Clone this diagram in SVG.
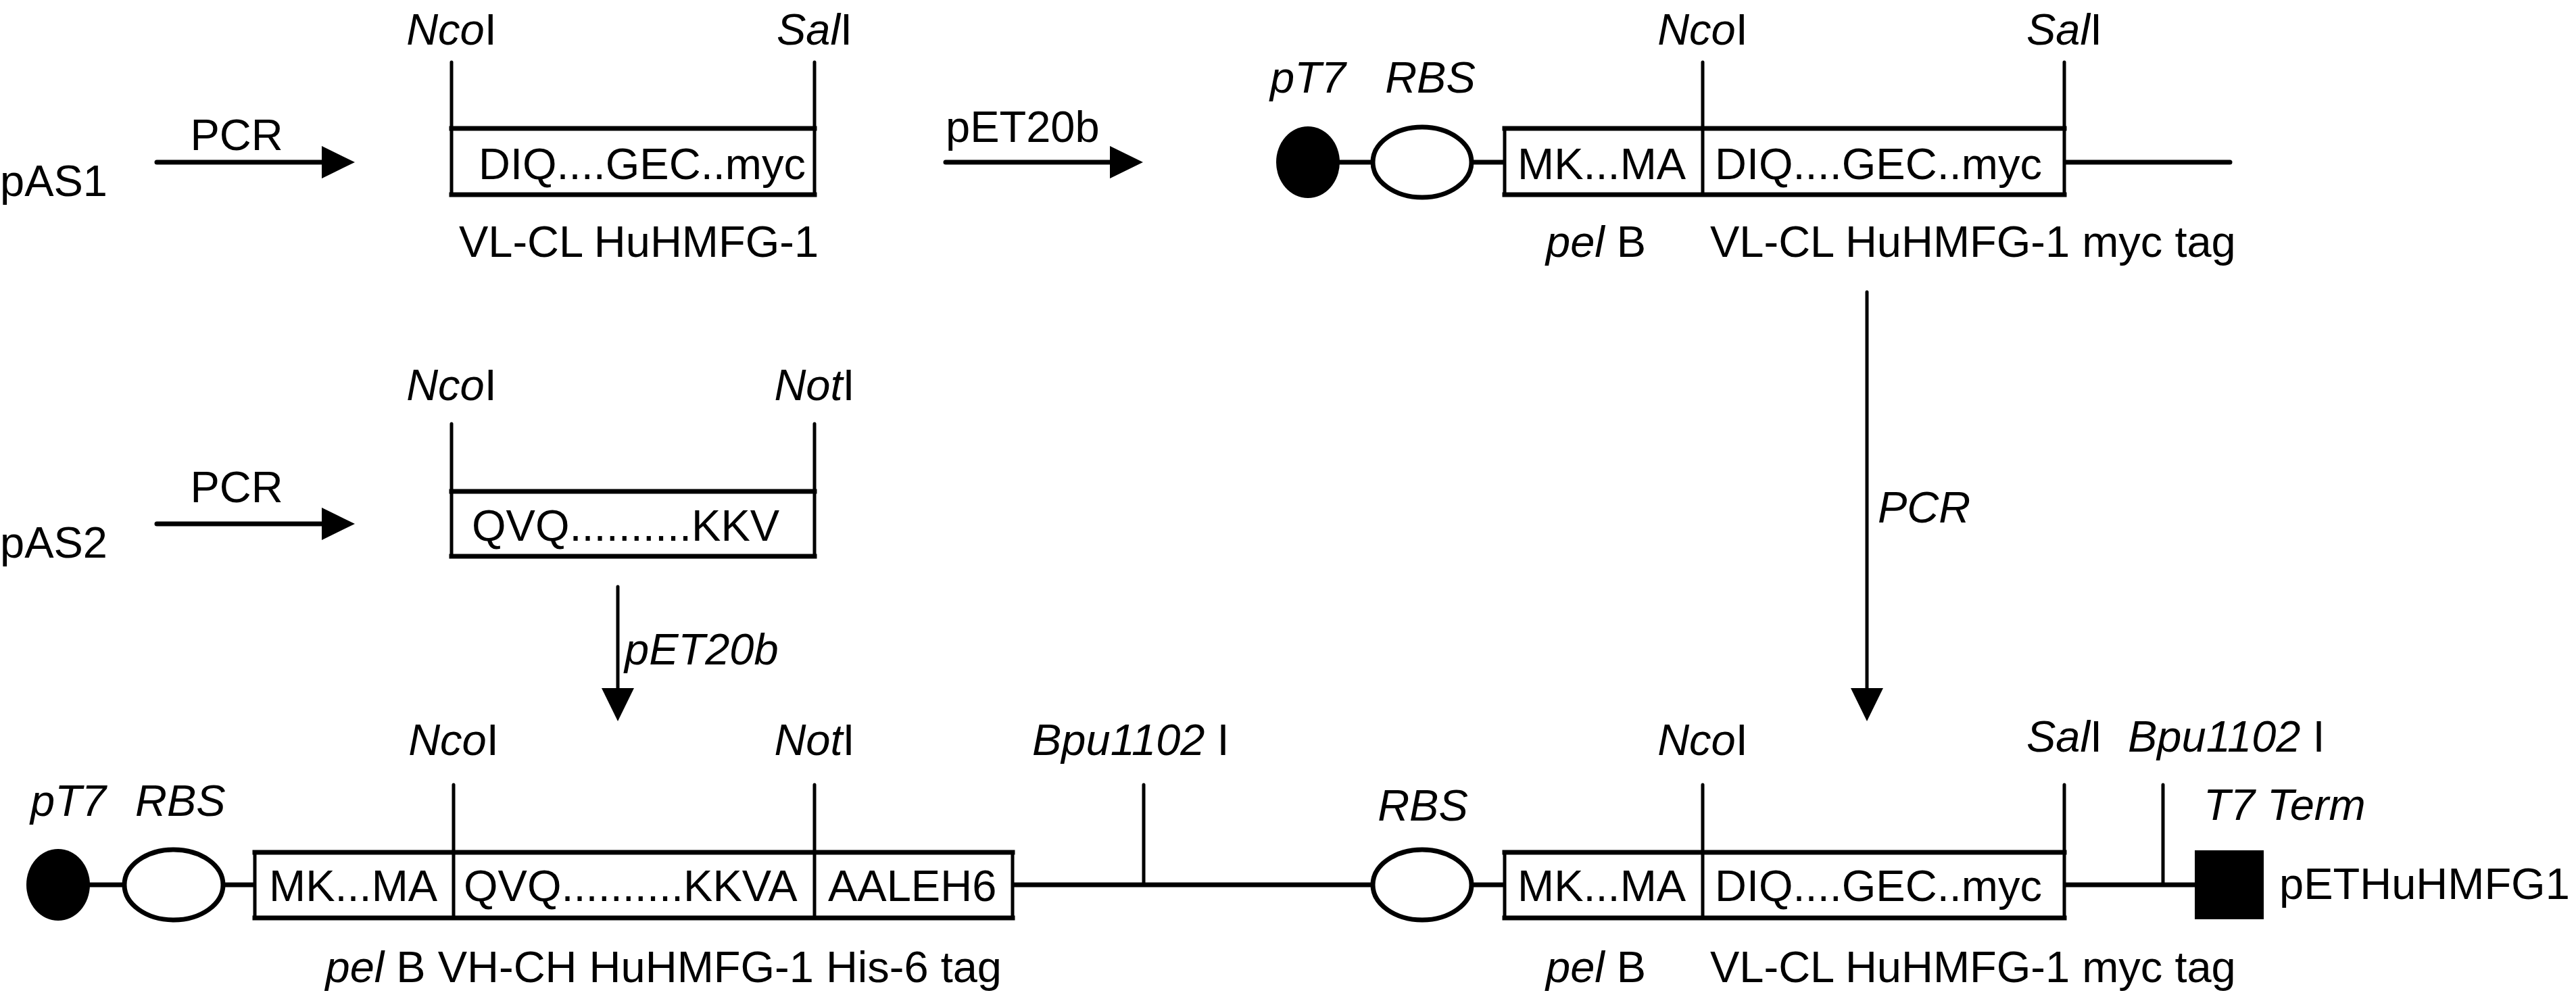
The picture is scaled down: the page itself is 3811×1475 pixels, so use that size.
<svg xmlns="http://www.w3.org/2000/svg" width="3811" height="1475" viewBox="0 0 3811 1475">
<style>
text{font-family:"Liberation Sans",Arial,Helvetica,sans-serif;font-size:65px;fill:#000}
.i{font-style:italic}
.m{text-anchor:middle}
.e{text-anchor:end}
.ln{stroke:#000;stroke-width:7;fill:none}
.site{stroke:#000;stroke-width:5;fill:none;stroke-linecap:round}
.box{stroke:#000;stroke-width:5;fill:#fff}
.hb{stroke:#000;stroke-width:7;fill:none;stroke-linecap:square}
.open{stroke:#000;stroke-width:7;fill:#fff}
.fill{fill:#000}
</style>
<defs>
<marker id="ah" markerUnits="userSpaceOnUse" viewBox="0 -25 50 50" markerWidth="50" markerHeight="50" refX="0" refY="0" orient="auto">
<path d="M0,-24 L49,0 L0,24 Z" fill="#000"/>
</marker>
</defs>
<rect width="3811" height="1475" fill="#fff"/>

<g id="connectors">
<line class="ln" x1="232" y1="240" x2="476" y2="240" stroke-linecap="round" marker-end="url(#ah)"/>
<line class="ln" x1="1399" y1="240" x2="1642" y2="240" stroke-linecap="round" marker-end="url(#ah)"/>
<line class="ln" x1="232" y1="775" x2="476" y2="775" stroke-linecap="round" marker-end="url(#ah)"/>
<line class="site" x1="914" y1="868" x2="914" y2="1018" marker-end="url(#ah)"/>
<line class="site" x1="2762" y1="432" x2="2762" y2="1018" marker-end="url(#ah)"/>
</g>

<g id="labels-steps">
<text x="0" y="290">pAS1</text>
<text x="350" y="222" class="m">PCR</text>
<text x="1399" y="210">pET20b</text>
<text x="0" y="825">pAS2</text>
<text x="350" y="743" class="m">PCR</text>
<text x="924" y="983" class="i">pET20b</text>
<text x="2778" y="773" class="i">PCR</text>
</g>

<g id="frag-vl">
<line class="site" x1="668" y1="92" x2="668" y2="190"/>
<line class="site" x1="1205" y1="92" x2="1205" y2="190"/>
<rect class="box" x="668" y="190" width="537" height="98"/>
<path class="hb" d="M668,190 H1205 M668,288 H1205"/>
<text x="708" y="265">DIQ....GEC..myc</text>
<text x="668" y="66" class="m"><tspan class="i">Nco</tspan>I</text>
<text x="1205" y="66" class="m"><tspan class="i">Sal</tspan>I</text>
<text x="945" y="380" class="m">VL-CL HuHMFG-1</text>
</g>

<g id="construct-vl">
<line class="ln" x1="1980" y1="240" x2="2226" y2="240"/>
<line class="ln" x1="3054" y1="240" x2="3299" y2="240" stroke-linecap="round"/>
<ellipse class="fill" cx="1935" cy="240" rx="47" ry="53"/>
<ellipse class="open" cx="2104" cy="240" rx="73" ry="52"/>
<rect class="box" x="2226" y="190" width="828" height="98"/>
<path class="hb" d="M2226,190 H3054 M2226,288 H3054"/>
<line class="site" x1="2519" y1="92" x2="2519" y2="288"/>
<line class="site" x1="3054" y1="92" x2="3054" y2="190"/>
<text x="2245" y="265">MK...MA</text>
<text x="2537" y="265">DIQ....GEC..myc</text>
<text x="1935" y="137" class="i m">pT7</text>
<text x="2116" y="137" class="i m">RBS</text>
<text x="2519" y="66" class="m"><tspan class="i">Nco</tspan>I</text>
<text x="3054" y="66" class="m"><tspan class="i">Sal</tspan>I</text>
<text x="2287" y="380"><tspan class="i">pel</tspan> B</text>
<text x="2530" y="380">VL-CL HuHMFG-1 myc tag</text>
</g>

<g id="frag-vh">
<line class="site" x1="668" y1="627" x2="668" y2="727"/>
<line class="site" x1="1205" y1="627" x2="1205" y2="727"/>
<rect class="box" x="668" y="727" width="537" height="96"/>
<path class="hb" d="M668,727 H1205 M668,823 H1205"/>
<text x="698" y="800">QVQ..........KKV</text>
<text x="668" y="592" class="m"><tspan class="i">Nco</tspan>I</text>
<text x="1205" y="592" class="m"><tspan class="i">Not</tspan>I</text>
</g>

<g id="construct-final">
<line class="ln" x1="130" y1="1309" x2="377" y2="1309"/>
<line class="ln" x1="1498" y1="1309" x2="2226" y2="1309"/>
<line class="ln" x1="3054" y1="1309" x2="3247" y2="1309"/>
<ellipse class="fill" cx="86" cy="1309" rx="47" ry="53"/>
<ellipse class="open" cx="257" cy="1309" rx="73" ry="52"/>
<rect class="box" x="377" y="1261" width="1121" height="97"/>
<path class="hb" d="M377,1261 H1498 M377,1358 H1498"/>
<line class="site" x1="671" y1="1161" x2="671" y2="1358"/>
<line class="site" x1="1205" y1="1161" x2="1205" y2="1358"/>
<line class="site" x1="1692" y1="1161" x2="1692" y2="1309"/>
<ellipse class="open" cx="2104" cy="1309" rx="73" ry="52"/>
<rect class="box" x="2226" y="1261" width="828" height="97"/>
<path class="hb" d="M2226,1261 H3054 M2226,1358 H3054"/>
<line class="site" x1="2519" y1="1161" x2="2519" y2="1358"/>
<line class="site" x1="3054" y1="1161" x2="3054" y2="1261"/>
<line class="site" x1="3200" y1="1161" x2="3200" y2="1309"/>
<rect class="fill" x="3247" y="1258" width="102" height="102"/>
<text x="398" y="1333">MK...MA</text>
<text x="686" y="1333">QVQ..........KKVA</text>
<text x="1225" y="1333">AALEH6</text>
<text x="2245" y="1333">MK...MA</text>
<text x="2537" y="1333">DIQ....GEC..myc</text>
<text x="45" y="1207" class="i">pT7</text>
<text x="200" y="1207" class="i">RBS</text>
<text x="2105" y="1214" class="i m">RBS</text>
<text x="671" y="1117" class="m"><tspan class="i">Nco</tspan>I</text>
<text x="1205" y="1117" class="m"><tspan class="i">Not</tspan>I</text>
<text x="1527" y="1117"><tspan class="i">Bpu1102</tspan> I</text>
<text x="2519" y="1117" class="m"><tspan class="i">Nco</tspan>I</text>
<text x="3054" y="1112" class="m"><tspan class="i">Sal</tspan>I</text>
<text x="3148" y="1112"><tspan class="i">Bpu1102</tspan> I</text>
<text x="3260" y="1213" class="i">T7 Term</text>
<text x="3372" y="1330">pETHuHMFG1</text>
<text x="1482" y="1453" class="e"><tspan class="i">pel</tspan> B VH-CH HuHMFG-1 His-6 tag</text>
<text x="2287" y="1453"><tspan class="i">pel</tspan> B</text>
<text x="2530" y="1453">VL-CL HuHMFG-1 myc tag</text>
</g>
</svg>
